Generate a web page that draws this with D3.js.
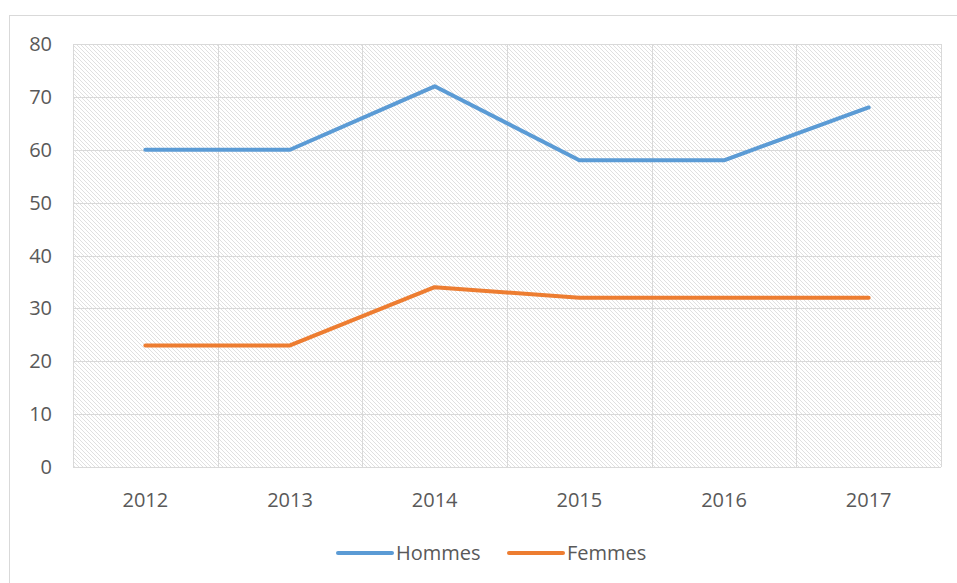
<!DOCTYPE html>
<html>
<head>
<meta charset="utf-8">
<script src="https://cdn.jsdelivr.net/npm/d3@7"></script>
<style>
  body { margin: 0; background: #fff; }
  svg { display: block; }
  text { font-family: "Open Sans", "Noto Sans", sans-serif; fill: #595959; }
</style>
</head>
<body>
<div id="chart"></div>
<script>
// chart data
const years = ["2012", "2013", "2014", "2015", "2016", "2017"]
const hommes = [60, 60, 72, 58, 58, 68]
const femmes = [23, 23, 34, 32, 32, 32]
const yTicks = [0, 10, 20, 30, 40, 50, 60, 70, 80]
const seriesNames = ["Hommes", "Femmes"]
const seriesColors = ["#5b9bd5", "#ed7d31"]

const width = 957, height = 583
const plot = { left: 73, right: 941, top: 44, bottom: 467 }
const fontSize = "20px"

const svg = d3.select("#chart")
  .append("svg")
  .attr("width", width)
  .attr("height", height)

// outer chart frame (runs past the right & bottom edge like the capture)
svg.append("rect")
  .attr("x", 9.5).attr("y", 15.5)
  .attr("width", 980).attr("height", 600)
  .attr("fill", "#fff")
  .attr("stroke", "#d9d9d9")

// hatched plot background
const defs = svg.append("defs")
const pat = defs.append("pattern")
  .attr("id", "hatch")
  .attr("patternUnits", "userSpaceOnUse")
  .attr("width", 4).attr("height", 4)
pat.append("path")
  .attr("d", "M-1,-1 L5,5 M-1,3 L1,5 M3,-1 L5,1")
  .attr("stroke", "#e0e0e0")
  .attr("stroke-width", 1)

const x = d3.scaleBand()
  .domain(years)
  .range([plot.left, plot.right])

const y = d3.scaleLinear()
  .domain([0, 80])
  .range([plot.bottom, plot.top])

svg.append("rect")
  .attr("x", plot.left).attr("y", plot.top)
  .attr("width", plot.right - plot.left)
  .attr("height", plot.bottom - plot.top)
  .attr("fill", "url(#hatch)")

// horizontal gridlines
svg.append("g")
  .selectAll("line")
  .data(yTicks)
  .join("line")
  .attr("x1", plot.left).attr("x2", plot.right)
  .attr("y1", d => Math.round(y(d)) + 0.5)
  .attr("y2", d => Math.round(y(d)) + 0.5)
  .attr("stroke", "#d9d9d9")

// vertical gridlines at category boundaries
const bounds = years.map(d => x(d)).concat([plot.right])
svg.append("g")
  .selectAll("line")
  .data(bounds)
  .join("line")
  .attr("x1", d => Math.round(d) + 0.5).attr("x2", d => Math.round(d) + 0.5)
  .attr("y1", plot.top).attr("y2", plot.bottom)
  .attr("stroke", "#d9d9d9")

// y axis labels
svg.append("g")
  .selectAll("text")
  .data(yTicks)
  .join("text")
  .attr("x", 52)
  .attr("y", d => y(d) + 7)
  .attr("text-anchor", "end")
  .style("font-size", fontSize)
  .text(d => d)

// x axis labels
svg.append("g")
  .selectAll("text")
  .data(years)
  .join("text")
  .attr("x", d => x(d) + x.bandwidth() / 2)
  .attr("y", 507)
  .attr("text-anchor", "middle")
  .style("font-size", fontSize)
  .text(d => d)

// series lines
const line = d3.line()
  .x((d, i) => x(years[i]) + x.bandwidth() / 2)
  .y(d => y(d))

const series = [hommes, femmes]
svg.append("g")
  .selectAll("path")
  .data(series)
  .join("path")
  .attr("d", d => line(d))
  .attr("fill", "none")
  .attr("stroke", (d, i) => seriesColors[i])
  .attr("stroke-width", 4)
  .attr("stroke-linejoin", "round")
  .attr("stroke-linecap", "round")

// legend
const legendX = [338, 509]
const lg = svg.append("g")
  .selectAll("g")
  .data(seriesNames)
  .join("g")
  .attr("transform", (d, i) => `translate(${legendX[i]},553)`)
lg.append("line")
  .attr("x1", 0).attr("x2", 54)
  .attr("stroke", (d, i) => seriesColors[i])
  .attr("stroke-width", 4)
  .attr("stroke-linecap", "round")
lg.append("text")
  .attr("x", 58).attr("y", 7)
  .style("font-size", fontSize)
  .text(d => d)
</script>
</body>
</html>
